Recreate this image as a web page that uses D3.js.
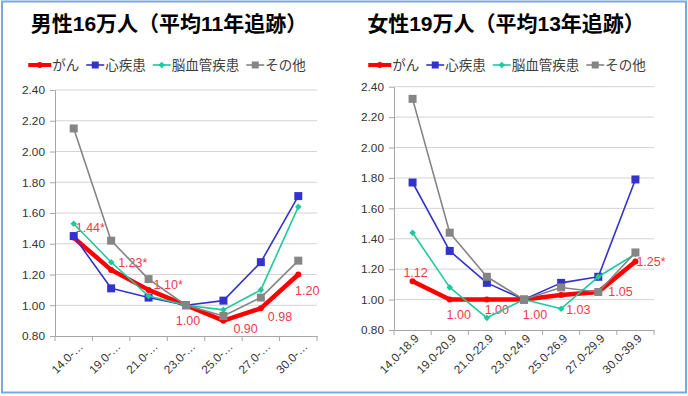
<!DOCTYPE html>
<html>
<head>
<meta charset="utf-8">
<script src="https://cdn.jsdelivr.net/npm/d3@7"></script>
<style>
  html, body { margin: 0; padding: 0; background: #fff; }
  svg { display: block; }
</style>
</head>
<body>
<div id="draw_svg"></div>
<script>
// BMI区分
const bmiFull = ["14.0-18.9", "19.0-20.9", "21.0-22.9", "23.0-24.9", "25.0-26.9", "27.0-29.9", "30.0-39.9"];
const bmiShort = ["14.0-…", "19.0-…", "21.0-…", "23.0-…", "25.0-…", "27.0-…", "30.0-…"];
const seriesNames = ["がん", "心疾患", "脳血管疾患", "その他"];
const yTicks = [0.8, 1.0, 1.2, 1.4, 1.6, 1.8, 2.0, 2.2, 2.4];

// 男性
const maleCancer = [1.44, 1.23, 1.10, 1.00, 0.90, 0.98, 1.20];
const maleHeart  = [1.45, 1.11, 1.05, 1.00, 1.03, 1.28, 1.71];
const maleStroke = [1.53, 1.28, 1.06, 1.00, 0.97, 1.10, 1.64];
const maleOther  = [2.15, 1.42, 1.17, 1.00, 0.93, 1.05, 1.29];
const maleSig    = [true, true, true, false, false, false, false];

// 女性
const femaleCancer = [1.12, 1.00, 1.00, 1.00, 1.03, 1.05, 1.25];
const femaleHeart  = [1.77, 1.32, 1.11, 1.00, 1.11, 1.15, 1.79];
const femaleStroke = [1.44, 1.08, 0.88, 1.00, 0.94, 1.15, 1.30];
const femaleOther  = [2.32, 1.44, 1.15, 1.00, 1.08, 1.05, 1.31];
const femaleSig    = [false, false, false, false, false, false, true];

const styles = [
    {color: "#ff0000", width: 4.5, marker: "circle", size: 3},
    {color: "#3333cc", width: 1.6, marker: "square", size: 8},
    {color: "#1fc99c", width: 1.6, marker: "diamond", size: 5},
    {color: "#858585", width: 1.6, marker: "square", size: 8}
];

const LABEL_COLOR = "#f23a4a";
const TEXT_COLOR = "#404040";

const svg = d3.select("#draw_svg").append("svg")
    .attr("width", 688).attr("height", 396);

svg.append("rect")
    .attr("x", 2).attr("y", 1.5).attr("width", 684).attr("height", 391)
    .attr("fill", "#fff").attr("stroke", "#78a8dc").attr("stroke-width", 2);

drawMarker = (g, st, x, y) => {
    if (st.marker === "circle") {
        g.append("circle").attr("cx", x).attr("cy", y).attr("r", st.size).attr("fill", st.color);
    } else if (st.marker === "square") {
        g.append("rect").attr("x", x - st.size / 2).attr("y", y - st.size / 2)
            .attr("width", st.size).attr("height", st.size).attr("fill", st.color);
    } else {
        const s = st.size / 2 + 0.8;
        g.append("path").attr("d", `M${x},${y - s}L${x + s},${y}L${x},${y + s}L${x - s},${y}Z`)
            .attr("fill", st.color);
    }
}

drawPanel = (p) => {
    const g = svg.append("g");

    // タイトル
    g.append("text")
        .attr("x", p.titleX).attr("y", 31)
        .attr("text-anchor", "middle")
        .attr("font-family", "'Liberation Sans', 'Noto Sans CJK JP', sans-serif")
        .attr("font-weight", "bold").attr("font-size", 21)
        .attr("fill", "#000")
        .text(p.title);

    // 凡例
    const lg = g.append("g");
    let cx = 0;
    seriesNames.forEach((name, i) => {
        const st = styles[i];
        const item = lg.append("g").attr("transform", `translate(${cx},0)`);
        const len = i === 0 ? 23 : 18;
        item.append("line").attr("x1", 0).attr("x2", len).attr("y1", 0).attr("y2", 0)
            .attr("stroke", st.color).attr("stroke-width", i === 0 ? 4 : 1.6);
        drawMarker(item, {...st, size: st.marker === "square" ? 7 : st.size}, len / 2, 0);
        const t = item.append("text").attr("x", len + 1).attr("y", 0)
            .attr("dy", "0.35em")
            .attr("font-family", "'Noto Sans CJK JP', sans-serif")
            .attr("font-size", 13.5).attr("fill", TEXT_COLOR)
            .text(name);
        cx += len + 1 + t.node().getComputedTextLength() + 7;
    });
    lg.attr("transform", `translate(${p.legendX - (cx - 7) / 2},65)`);

    const x = d3.scaleBand().domain(d3.range(7)).range([p.x0, p.x1]);
    const y = d3.scaleLinear().domain([0.8, 2.4]).range([p.yBot, p.yTop]);

    // グリッド
    g.append("g").selectAll("line").data(yTicks.slice(1)).join("line")
        .attr("x1", p.x0).attr("x2", p.x1)
        .attr("y1", d => y(d)).attr("y2", d => y(d))
        .attr("stroke", "#d4d4d4").attr("stroke-width", 1);

    // Y軸
    const yAxis = g.append("g").attr("transform", `translate(${p.x0},0)`)
        .call(d3.axisLeft(y).tickValues(yTicks).tickFormat(d3.format(".2f")).tickSizeInner(5).tickSizeOuter(0).tickPadding(5));
    yAxis.select(".domain").attr("stroke", "#a6a6a6");
    yAxis.selectAll(".tick line").attr("stroke", "#a6a6a6");
    yAxis.selectAll("text").attr("font-family", "'Liberation Sans', Arial, sans-serif")
        .attr("font-size", 11.8).attr("fill", "#333");

    // X軸
    const xAxis = g.append("g").attr("transform", `translate(0,${p.yBot})`)
        .call(d3.axisBottom(x).tickSize(0).tickFormat(i => p.labels[i]));
    xAxis.select(".domain").attr("stroke", "#a6a6a6");
    xAxis.selectAll("text")
        .attr("font-family", "'Liberation Sans', Arial, sans-serif")
        .attr("font-size", 11.8).attr("fill", "#333")
        .attr("text-anchor", "end")
        .attr("dy", null)
        .attr("transform", `translate(${p.lblDx},${p.lblDy}) rotate(-45)`);
    g.append("g").selectAll("line").data(d3.range(8)).join("line")
        .attr("x1", i => p.x0 + i * x.step()).attr("x2", i => p.x0 + i * x.step())
        .attr("y1", p.yBot).attr("y2", p.yBot + 5)
        .attr("stroke", "#a6a6a6");

    const cxOf = i => x(i) + x.bandwidth() / 2;

    // データラベル（線の下）
    g.append("g").selectAll("text").data(p.series[0]).join("text")
        .attr("x", (d, i) => cxOf(i) + p.labelOff[i][0])
        .attr("y", (d, i) => y(d) + p.labelOff[i][1])
        .attr("dy", "0.35em")
        .attr("text-anchor", (d, i) => p.labelOff[i][2])
        .attr("font-family", "'Liberation Sans', Arial, sans-serif")
        .attr("font-size", 12.5).attr("fill", LABEL_COLOR)
        .text((d, i) => d.toFixed(2) + (p.sig[i] ? "*" : ""));

    // 系列
    const line = d3.line().x((d, i) => cxOf(i)).y(d => y(d));
    p.series.forEach((vals, s) => {
        const st = styles[s];
        const sg = g.append("g");
        sg.append("path").attr("d", line(vals))
            .attr("fill", "none").attr("stroke", st.color)
            .attr("stroke-width", st.width).attr("stroke-linejoin", "round");
        vals.forEach((v, i) => drawMarker(sg, st, cxOf(i), y(v)));
    });
}

drawPanel({
    title: "男性16万人（平均11年追跡）", titleX: 169, legendX: 167,
    x0: 55, x1: 317, yTop: 90, yBot: 336,
    labels: bmiShort, lblDx: 8, lblDy: 9,
    series: [maleCancer, maleHeart, maleStroke, maleOther],
    sig: maleSig,
    labelOff: [[2, -10, "start"], [7, -7, "start"], [5, -5, "start"], [2, 15, "middle"],
               [10, 8, "start"], [7, 8, "start"], [9, 16, "middle"]]
});

drawPanel({
    title: "女性19万人（平均13年追跡）", titleX: 506, legendX: 507,
    x0: 394, x1: 654, yTop: 86.7, yBot: 330,
    labels: bmiFull, lblDx: 5, lblDy: 7,
    series: [femaleCancer, femaleHeart, femaleStroke, femaleOther],
    sig: femaleSig,
    labelOff: [[3, -9, "middle"], [9, 15, "middle"], [10, 10, "middle"], [11, 15, "middle"],
               [5, 15, "start"], [10, 0, "start"], [1, 0, "start"]]
});
</script>
</body>
</html>
